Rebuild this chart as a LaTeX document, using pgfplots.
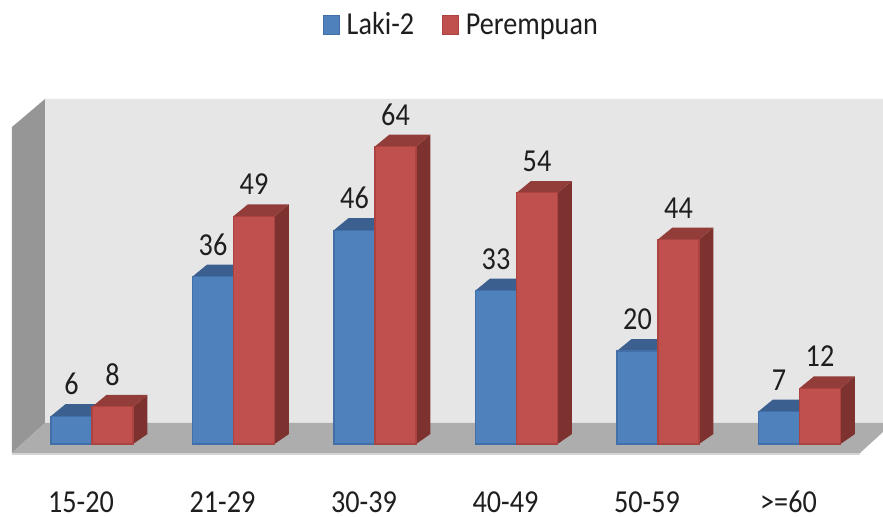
\documentclass[border=0pt]{standalone}
\usepackage{fontspec}
\setmainfont[FakeStretch=0.88]{Carlito}
\usepackage{pgfplots}
\pgfplotsset{compat=1.18}
\usepackage{pgfplotstable}
\definecolor{wallB}{HTML}{E6E6E6}
\definecolor{wallL}{HTML}{969696}
\definecolor{floorC}{HTML}{ADADAD}
\definecolor{floorL}{HTML}{D4D4D4}
\definecolor{blueF}{HTML}{4F81BD}
\definecolor{blueE}{HTML}{436FA8}
\definecolor{blueT}{HTML}{3B5F8F}
\definecolor{blueS}{HTML}{2F4D75}
\definecolor{redF}{HTML}{C0504D}
\definecolor{redE}{HTML}{AB4340}
\definecolor{redT}{HTML}{933D3B}
\definecolor{redS}{HTML}{7D3230}
\definecolor{txt}{HTML}{1E1E1E}
\pgfplotstableread{
c laki perempuan
0 6 8
1 36 49
2 46 64
3 33 54
4 20 44
5 7 12
}\agedata
% depth faces of one bar: left edge, right edge, value, top colour, side colour
\newcommand{\depth}[5]{%
  \addplot[forget plot, fill=#5, draw=none] coordinates {({#2},0) ({#2+0.102},2.15) ({#2+0.102},{#3+2.55}) ({#2},{#3}) ({#2},0)};
  \addplot[forget plot, fill=#4, draw=none] coordinates {({#1},{#3}) ({#1+0.102},{#3+2.55}) ({#2+0.102},{#3+2.55}) ({#2},{#3}) ({#1},{#3})};
}
\begin{document}
\begin{tikzpicture}
\begin{axis}[
  scale only axis, width=662.25pt, height=387.75pt,
  xmin=-0.6502, xmax=5.5901, ymin=-15.70, ymax=95.48,
  axis line style={draw=none}, tick style={draw=none},
  ytick=\empty, xtick={0,1,2,3,4,5},
  xticklabels={15-20,21-29,30-39,40-49,50-59,{>=60}},
  xticklabel style={font=\fontsize{24pt}{27pt}\selectfont, text=txt, anchor=base, inner sep=0pt, yshift=3.5pt, xshift=-8.25pt},
  /pgf/number format/assume math mode=true,
  legend columns=2,
  legend style={at={(0.3658,0.952)}, anchor=west, draw=none, fill=none,
    font=\fontsize{24pt}{27pt}\selectfont, text=txt, inner sep=0pt, outer sep=0pt,
    /tikz/every even column/.append style={column sep=19pt}},
]
% walls and floor
\addplot[forget plot, fill=wallB, draw=none] coordinates {(-0.3322,74.19) (5.5901,74.19) (5.5901,4.516) (-0.3322,4.516) (-0.3322,74.19)};
\addplot[forget plot, fill=wallL, draw=none] coordinates {(-0.5654,68.17) (-0.3322,74.19) (-0.3322,4.516) (-0.5654,-1.935) (-0.5654,68.17)};
\addplot[forget plot, fill=floorC, draw=none] coordinates {(-0.5654,-1.935) (-0.3322,4.516) (5.5901,4.516) (5.5901,2.581) (5.4276,-1.935) (-0.5654,-1.935)};
\addplot[forget plot, draw=floorL, line width=1.2pt] coordinates {(-0.5654,-2.2) (5.4276,-2.2)};
% blue series
\depth{-0.29}{0}{6}{blueT}{blueS}
\depth{0.71}{1}{36}{blueT}{blueS}
\depth{1.71}{2}{46}{blueT}{blueS}
\depth{2.71}{3}{33}{blueT}{blueS}
\depth{3.71}{4}{20}{blueT}{blueS}
\depth{4.71}{5}{7}{blueT}{blueS}
\addplot[ybar, bar width=30.75pt, bar shift=-15.375pt, fill=blueF, draw=blueE, line width=0.8pt,
  nodes near coords,
  nodes near coords style={font=\fontsize{24pt}{27pt}\selectfont, text=txt, anchor=base, inner sep=0pt, yshift=16pt, xshift=-15.375pt},
  area legend,
  legend image code/.code={\draw[fill=blueF, draw=blueE, line width=0.8pt] (0pt,-7pt) rectangle (12pt,7pt); \path (15pt,0pt);}]
  table[x=c, y=laki] {\agedata};
\addlegendentry{Laki-2}
% red series
\depth{0}{0.29}{8}{redT}{redS}
\depth{1}{1.29}{49}{redT}{redS}
\depth{2}{2.29}{64}{redT}{redS}
\depth{3}{3.29}{54}{redT}{redS}
\depth{4}{4.29}{44}{redT}{redS}
\depth{5}{5.29}{12}{redT}{redS}
\addplot[ybar, bar width=30.75pt, bar shift=15.375pt, fill=redF, draw=redE, line width=0.8pt,
  nodes near coords,
  nodes near coords style={font=\fontsize{24pt}{27pt}\selectfont, text=txt, anchor=base, inner sep=0pt, yshift=16pt, xshift=15.375pt},
  area legend,
  legend image code/.code={\draw[fill=redF, draw=redE, line width=0.8pt] (0pt,-7pt) rectangle (12pt,7pt); \path (15pt,0pt);}]
  table[x=c, y=perempuan] {\agedata};
\addlegendentry{Perempuan}
\end{axis}
\end{tikzpicture}
\end{document}
